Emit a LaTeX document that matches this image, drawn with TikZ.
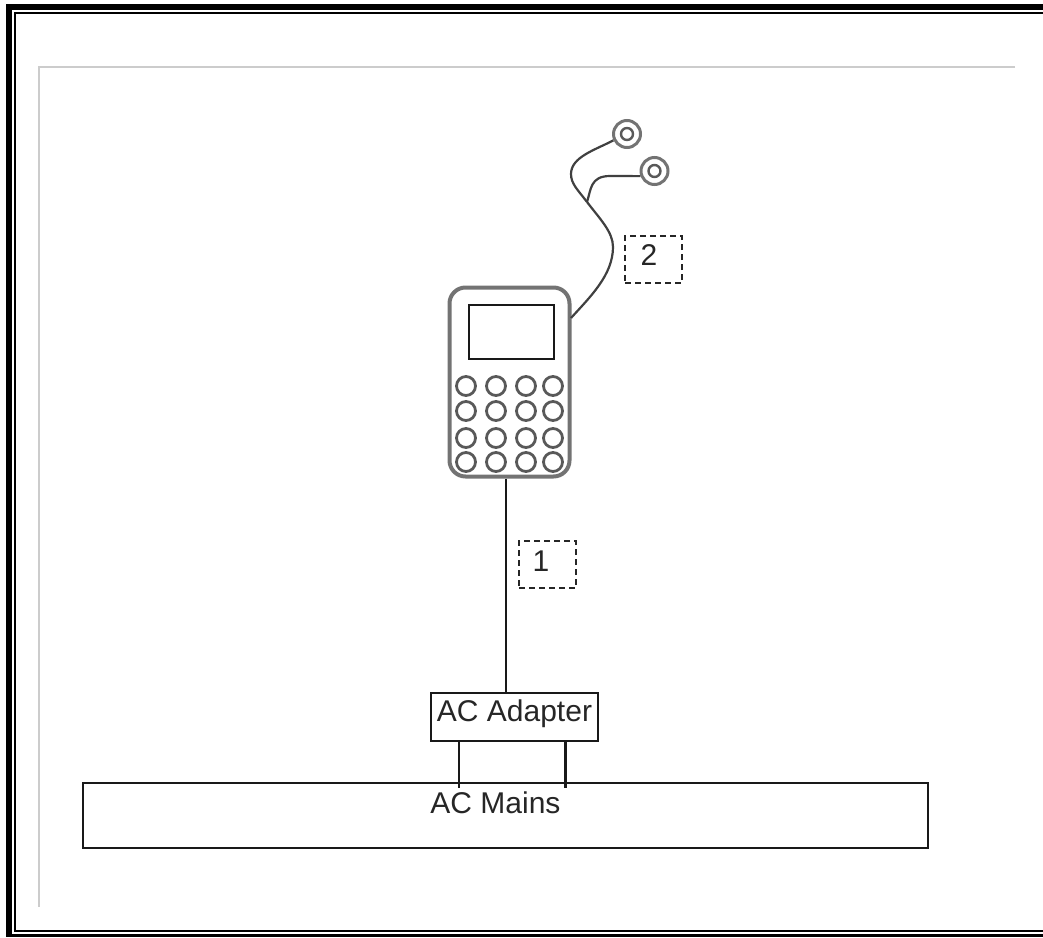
\documentclass[tikz,border=0pt]{standalone}
\usepackage{fontspec}
\setmainfont{Liberation Sans}
\begin{document}
\begin{tikzpicture}[
    x=1pt, y=-1pt,
    % Estilos de las cajas
    boxnode/.style={draw=black!90, line width=2.2pt, minimum width=#1, inner sep=0pt},
    tagbox/.style={draw=black!85, line width=1.6pt, dash pattern=on 6pt off 4pt, minimum width=57pt, minimum height=47pt, inner sep=0pt},
    phonebody/.style={draw=black!55, line width=4pt, rounded corners=16pt, minimum width=120pt, minimum height=189pt, inner sep=0pt},
    keybtn/.style={circle, draw=black!65, line width=2.8pt, minimum size=19pt, inner sep=0pt},
    budouter/.style={circle, draw=black!55, line width=3pt, minimum size=27pt, inner sep=0pt},
    budinner/.style={circle, draw=black!65, line width=2.4pt, minimum size=12pt, inner sep=0pt},
    % Estilos para los textos
    labeltext/.style={font=\fontsize{30}{36}\selectfont, text=black!85, inner sep=0pt},
    wire/.style={draw=black!90, line width=2.2pt},
    cable/.style={draw=black!75, line width=2.2pt}
]
\useasboundingbox (0,0) rectangle (1043,937);

% --- FRAME ---
\draw[line width=6pt, miter limit=10] (1043,7) -- (9,7) -- (9,937);
\draw[line width=2pt] (1043,13) -- (15,13) -- (15,931) -- (1043,931);
\draw[line width=3pt] (6,935.5) -- (1043,935.5);
\draw[line width=2.5pt, draw=black!20] (1015,67) -- (39.2,67) -- (39.2,907);

% --- PHONE ---
\node[phonebody] (phone) at (509.5,382) {};
\node[boxnode=85pt, minimum height=54pt] (screen) at (511.5,332) {};

\node[keybtn] (key11) at (466,386) {};
\node[keybtn] (key12) at (496,386) {};
\node[keybtn] (key13) at (526,386) {};
\node[keybtn] (key14) at (553,386) {};
\node[keybtn] (key21) at (466,411) {};
\node[keybtn] (key22) at (496,411) {};
\node[keybtn] (key23) at (526,411) {};
\node[keybtn] (key24) at (553,411) {};
\node[keybtn] (key31) at (466,438) {};
\node[keybtn] (key32) at (496,438) {};
\node[keybtn] (key33) at (526,438) {};
\node[keybtn] (key34) at (553,438) {};
\node[keybtn] (key41) at (466,462) {};
\node[keybtn] (key42) at (496,462) {};
\node[keybtn] (key43) at (526,462) {};
\node[keybtn] (key44) at (553,462) {};

% --- EARPHONES ---
\node[budouter] (bud1) at (627,134) {};
\node[budinner] (bud1in) at (627,134) {};
\node[budouter] (bud2) at (654.5,171) {};
\node[budinner] (bud2in) at (654.5,171) {};
\coordinate (jack) at (571,318);
\coordinate (split) at (587,202);
\draw[cable] (jack) .. controls (590,297) and (613,275) .. (613,247)
    .. controls (613,232) and (600,219) .. (split);
\draw[cable] (split) .. controls (578,190) and (571,184) .. (571,174)
    .. controls (571,157) and (595,150) .. (bud1.205);
\draw[cable] (split) .. controls (591,190) and (590,176) .. (610,176) -- (bud2.200);
\node[tagbox] (tag2) at (653.5,259.5) {};
\node[labeltext] (tag2text) at (649,255) {2};

% --- ADAPTER ---
\node[boxnode=167pt, minimum height=48pt] (adapter) at (514.5,717) {};
\node[labeltext] (adaptertext) at (514.5,714) {AC Adapter};
\draw[wire] (phone.south -| adapter.north) ++(-8.5,0) coordinate (plug) -- (plug |- adapter.north);
\node[tagbox] (tag1) at (547.5,564.5) {};
\node[labeltext] (tag1text) at (541,561) {1};

% --- MAINS ---
\node[boxnode=845pt, minimum height=65pt] (mains) at (505.5,815.5) {};
\node[labeltext] (mainstext) at (495.5,803) {AC Mains};
\coordinate (leg1) at (459,788);
\coordinate (leg2) at (565.5,788);
\draw[wire] (adapter.south -| leg1) -- (leg1);
\draw[wire] (adapter.south -| leg2) -- (leg2);

\end{tikzpicture}
\end{document}
